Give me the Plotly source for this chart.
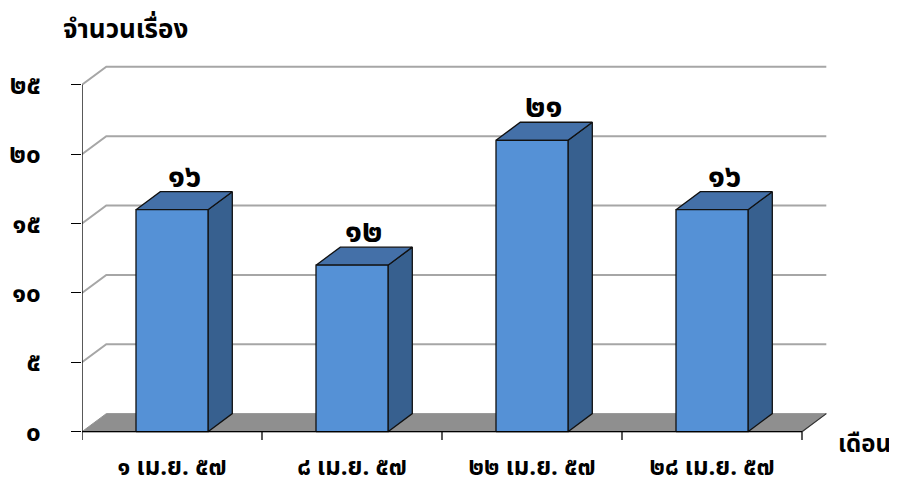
import plotly.graph_objects as go

categories = ["๑ เม.ย. ๕๗", "๘ เม.ย. ๕๗", "๒๒ เม.ย. ๕๗", "๒๘ เม.ย. ๕๗"]
values = [16, 12, 21, 16]
value_labels = ["๑๖", "๑๒", "๒๑", "๑๖"]
y_ticks = [0, 5, 10, 15, 20, 25]
y_tick_labels = ["๐", "๕", "๑๐", "๑๕", "๒๐", "๒๕"]
y_title = "จำนวนเรื่อง"
x_title = "เดือน"

FONT = "Noto Sans Thai, Tahoma, DejaVu Sans, sans-serif"
DX = 0.135   # depth offset in category units
DY = 1.3     # depth offset in value units
BW = 0.4     # bar width
n = len(categories)
xs = list(range(n))
left, right = -0.5, n - 0.5

fig = go.Figure()

# back wall & side wall gridlines
gx, gy = [], []
for v in y_ticks[1:]:
    gx += [left, left + DX, right + DX, None]
    gy += [v, v + DY, v + DY, None]
fig.add_trace(go.Scatter(x=gx, y=gy, mode="lines", line=dict(color="#A6A6A6", width=2),
                         hoverinfo="skip", showlegend=False))

# floor
fig.add_trace(go.Scatter(x=[left, right, right + DX, left + DX, left],
                         y=[0, 0, DY, DY, 0], mode="lines", fill="toself",
                         fillcolor="#8F8F8F", line=dict(color="#8F8F8F", width=1),
                         hoverinfo="skip", showlegend=False))
fig.add_trace(go.Scatter(x=[right, right + DX], y=[0, DY], mode="lines",
                         line=dict(color="#333333", width=1.2),
                         hoverinfo="skip", showlegend=False))

# bars
fx, fy, tx, ty, sx, sy = [], [], [], [], [], []
for i, v in zip(xs, values):
    x0, x1 = i - BW / 2, i + BW / 2
    fx += [x0, x1, x1, x0, x0, None]
    fy += [0, 0, v, v, 0, None]
    tx += [x0, x1, x1 + DX, x0 + DX, x0, None]
    ty += [v, v, v + DY, v + DY, v, None]
    sx += [x1, x1 + DX, x1 + DX, x1, x1, None]
    sy += [0, DY, v + DY, v, 0, None]
for px, py, col in [(sx, sy, "#37608F"), (tx, ty, "#4470A8"), (fx, fy, "#5591D6")]:
    fig.add_trace(go.Scatter(x=px, y=py, mode="lines", fill="toself", fillcolor=col,
                             line=dict(color="#111111", width=1.3),
                             hoverinfo="skip", showlegend=False))

# front axis lines and category boundary ticks
ax, ay = [left, left, right, None], [y_ticks[-1], 0, 0, None]
for b in [i - 0.5 for i in range(n + 1)]:
    ax += [b, b, None]
    ay += [0, -0.6, None]
fig.add_trace(go.Scatter(x=ax, y=ay, mode="lines", line=dict(color="black", width=1.3),
                         hoverinfo="skip", showlegend=False))

for i, v, lab in zip(xs, values, value_labels):
    fig.add_annotation(x=i + DX / 2, y=v + DY, text=lab, showarrow=False,
                       yanchor="middle", yshift=15,
                       font=dict(family=FONT, size=32, color="black", weight="bold"))

fig.add_annotation(x=0.058, y=1.09, xref="paper", yref="paper", text=y_title,
                   showarrow=False, xanchor="center", yanchor="middle",
                   font=dict(family=FONT, size=26, color="black", weight="bold"))
fig.add_annotation(x=1.047, y=-0.013, xref="paper", yref="paper", text=x_title,
                   showarrow=False, xanchor="center", yanchor="middle",
                   font=dict(family=FONT, size=24, color="black", weight="bold"))

# the page body adds an 8px offset, so the figure is 8px smaller and shifted back
fig.update_layout(
    width=889, height=478,
    margin=dict(l=74, r=68, t=56, b=46, autoexpand=False),
    plot_bgcolor="white", paper_bgcolor="white",
    showlegend=False,
    xaxis=dict(range=[left, right + 0.15], tickvals=xs, ticktext=categories,
               ticks="", showgrid=False, zeroline=False, showline=False,
               ticklabelstandoff=10, automargin=False,
               tickfont=dict(family=FONT, size=24, color="black", weight="bold")),
    yaxis=dict(range=[-0.6, 26.5], tickvals=y_ticks, ticktext=y_tick_labels,
               ticks="outside", ticklen=10, tickcolor="black", tickwidth=1.3,
               showgrid=False, zeroline=False, showline=False,
               ticklabelstandoff=25, automargin=False,
               tickfont=dict(family=FONT, size=26, color="black", weight="bold")),
)

fig.write_html("out.html")
